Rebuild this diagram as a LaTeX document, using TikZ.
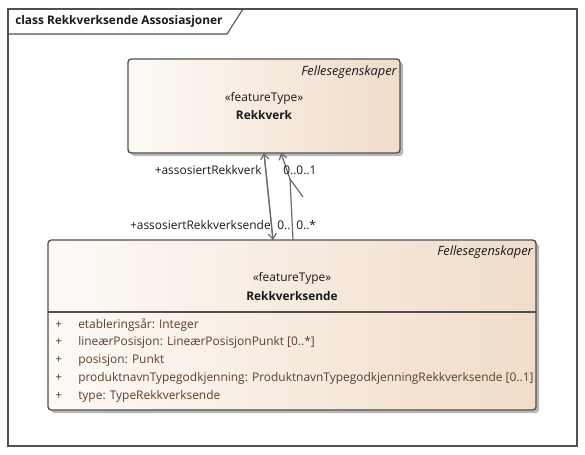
\documentclass[tikz,border=0pt]{standalone}
\usepackage{fontspec}
\setmainfont{Open Sans}
\usetikzlibrary{arrows.meta,calc}
\definecolor{edge}{HTML}{505050}
\definecolor{boxL}{HTML}{FDFAF6}
\definecolor{boxR}{HTML}{F0DCC9}
\definecolor{shad}{HTML}{B8B8B8}
\definecolor{txt}{HTML}{1A1A1A}
\definecolor{attr}{HTML}{5E3F2B}
\tikzset{
  umlbox/.style={draw=edge, line width=1pt, rounded corners=2.5pt, left color=boxL, right color=boxR, anchor=north west, inner sep=0pt, outer sep=0pt},
  shadowbox/.style={fill=shad, rounded corners=2.5pt, draw=none, anchor=north west, inner sep=0pt, outer sep=0pt},
  lbl/.style={font=\fontsize{8.95}{10}\selectfont, text=txt, inner sep=0pt},
  attrtxt/.style={lbl, text=attr},
  ital/.style={lbl, font=\fontsize{9.6}{10}\selectfont\itshape},
  bld/.style={lbl, font=\fontsize{8.9}{10}\selectfont\bfseries},
  assoc/.style={draw=edge!85, line width=0.9pt},
  tip/.style={-{Straight Barb[length=4pt,width=6pt]}}
}
\begin{document}
\begin{tikzpicture}[x=0.75pt,y=-0.75pt]
\useasboundingbox[fill=white] (0,0) rectangle (585,454);
% frame
\draw[edge, line width=0.8pt] (8,9) rectangle (577,446);
\draw[edge, line width=0.8pt] (8,34) -- (227,34) -- (243,9);
\node[lbl, anchor=west, font=\fontsize{8.9}{10}\selectfont\bfseries] (title) at (15,21) {class Rekkverksende Assosiasjoner};
% Rekkverk
\node[shadowbox, minimum width=204pt, minimum height=70.5pt] (rvs) at (131,62) {};
\node[umlbox, minimum width=204pt, minimum height=70.5pt] (rv) at (128,59) {};
\node[ital, anchor=east] (rvst) at (397,72) {Fellesegenskaper};
\node[lbl] (rvft) at (264,98) {«featureType»};
\node[bld] (rvn) at (264,115) {Rekkverk};
% Rekkverksende
\node[shadowbox, minimum width=366pt, minimum height=127.5pt] (rves) at (51,243) {};
\node[umlbox, minimum width=366pt, minimum height=127.5pt] (rve) at (48,240) {};
\draw[edge, line width=0.9pt] (48,312) -- (536,312);
\node[ital, anchor=east] (rvest) at (533,252) {Fellesegenskaper};
\node[lbl] (rveft) at (292,278) {«featureType»};
\node[bld] (rven) at (292,296) {Rekkverksende};
% attributes
\foreach \yy/\t [count=\i] in {325/{etableringsår: Integer},
  342/{lineærPosisjon: LineærPosisjonPunkt [0..*]},
  360/{posisjon: Punkt},
  378/{produktnavnTypegodkjenning: ProduktnavnTypegodkjenningRekkverksende [0..1]},
  396/{type: TypeRekkverksende}}{
  \node[attrtxt, anchor=west] (p\i) at (55,\yy) {+};
  \node[attrtxt, anchor=west] (a\i) at (78,\yy) {\t};
}
% association end points
\coordinate (e1t) at (264,153);
\coordinate (e1b) at (273,240);
\coordinate (e2t) at (281,153);
\coordinate (e2m) at (290,179);
\coordinate (e2b) at (293,240);
\coordinate (e2x) at (303,197);
\draw[assoc, tip] (e1b) -- (e1t);
\draw[assoc, tip] (e1t) -- (e1b);
\draw[assoc, tip] (e2b) -- (e2m) -- (e2t);
\draw[assoc] (e2m) -- (e2x);
% labels
\node[lbl, anchor=east] (l1) at (262,170) {+assosiertRekkverk};
\node[lbl, anchor=west] (m1) at (283,170) {0..0..1};
\node[lbl, anchor=east] (l2) at (271,225) {+assosiertRekkverksende};
\node[lbl, anchor=west] (m2) at (277,225) {0..};
\node[lbl, anchor=west] (m3) at (296,225) {0..*};
\end{tikzpicture}
\end{document}
